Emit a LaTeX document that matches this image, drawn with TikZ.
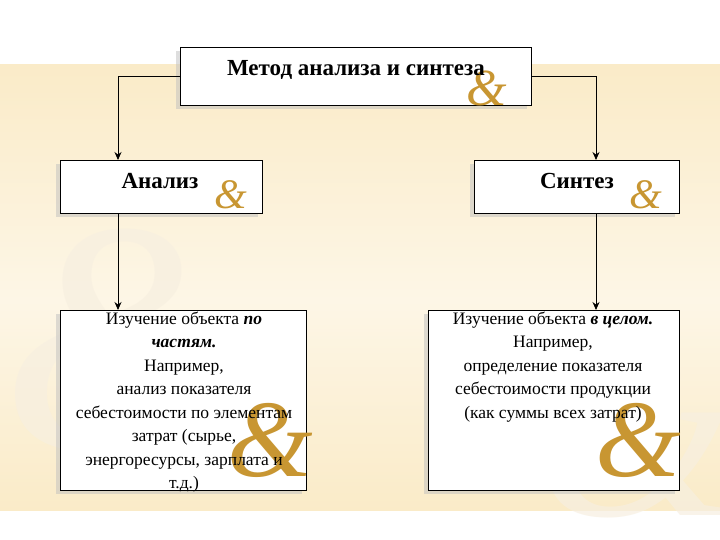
\documentclass[tikz,border=0pt]{standalone}
\usepackage{fontspec}
\setmainfont{Liberation Serif}
\usetikzlibrary{arrows.meta,shadows}
\definecolor{gold}{RGB}{200,150,50}
\definecolor{bandtop}{RGB}{250,235,200}
\definecolor{bandmid}{RGB}{253,246,230}
\tikzset{
  box/.style={draw=black,line width=0.8pt,fill=white,inner sep=0pt,
    drop shadow={shadow xshift=-4pt,shadow yshift=-4pt,fill=gray!50}},
  conn/.style={-{Stealth[length=8pt,width=7pt]},line width=0.8pt},
  amp/.style={text=gold,font=\fontsize{#1}{#1}\selectfont\itshape},
  txt/.style={align=center,font=\fontsize{17.5}{23.5}\selectfont},
  ttl/.style={font=\bfseries\fontsize{23}{26}\selectfont}
}
\begin{document}
\begin{tikzpicture}[x=1pt,y=-1pt]
\useasboundingbox (0,0) rectangle (720,540);
\fill[white] (0,0) rectangle (720,540);
\shade[top color=bandtop,bottom color=bandmid] (0,65) rectangle (720,300);
\shade[top color=bandmid,bottom color=bandtop] (0,300) rectangle (720,510);
\node[amp=330,text=gold!15,opacity=0.7] (bgamp) at (130,340) {\&};
\node[amp=260,text=gold!15,opacity=0.7] (bgamp2) at (640,430) {\&};
% boxes
\node[box,minimum width=351,minimum height=58,anchor=north west] (top) at (180,47) {};
\node[box,minimum width=202,minimum height=53,anchor=north west] (an) at (60,160) {};
\node[box,minimum width=205,minimum height=53,anchor=north west] (sy) at (474,160) {};
\node[box,minimum width=246,minimum height=180,anchor=north west] (bl) at (60,310) {};
\node[box,minimum width=251,minimum height=180,anchor=north west] (br) at (428,310) {};
% ampersands
\node[amp=52] (a1) at (487,88) {\&};
\node[amp=42] (a2) at (231,195) {\&};
\node[amp=42] (a3) at (646,195) {\&};
\node[amp=110] (a4) at (270,440) {\&};
\node[amp=110] (a5) at (638,440) {\&};
% texts
\node[ttl] (t1) at (356,70) {Метод анализа и синтеза};
\node[ttl] (t2) at (160,181) {Анализ};
\node[ttl] (t3) at (577,181) {Синтез};
\node[txt,anchor=north] (t4) at (184,308) {Изучение объекта \textbf{\textit{по}}\\\textbf{\textit{частям.}}\\Например,\\анализ показателя\\себестоимости по элементам\\затрат (сырье,\\энергоресурсы, зарплата и\\т.д.)};
\node[txt,anchor=north] (t5) at (553,308) {Изучение объекта \textbf{\textit{в целом.}}\\Например,\\определение показателя\\себестоимости продукции\\(как суммы всех затрат)};
% connectors
\draw[conn] (top.west) -| (an.north -| 118,0);
\draw[conn] (top.east) -| (sy.north -| 596,0);
\draw[conn] (an.south -| 118,0) -- (bl.north -| 118,0);
\draw[conn] (sy.south -| 596,0) -- (br.north -| 596,0);
\end{tikzpicture}
\end{document}
